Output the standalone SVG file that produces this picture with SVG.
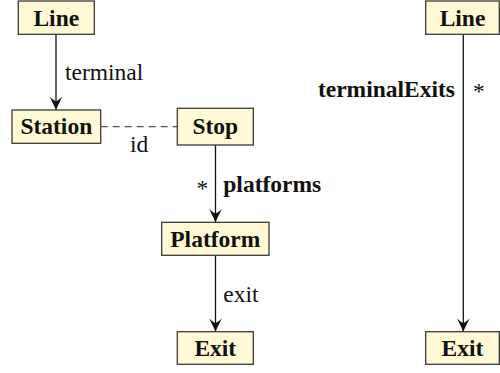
<svg xmlns="http://www.w3.org/2000/svg" width="500" height="373" viewBox="0 0 500 373">
<defs>
<style>
.box{fill:#fffad5;stroke:#3a3a3a;stroke-width:1.3}
text{font-family:'Liberation Serif','Times New Roman','DejaVu Serif',serif;font-size:23.5px;fill:#111}
.nt{font-weight:bold;text-anchor:middle}
.lbb{font-weight:bold}
.edge{stroke:#111;stroke-width:1.3;fill:none}
.dash{stroke:#555;stroke-width:1.3;fill:none;stroke-dasharray:7,5}
</style>
<marker id="arr" viewBox="-15 -7 16 14" refX="0" refY="0" markerWidth="16" markerHeight="14" markerUnits="userSpaceOnUse" orient="auto">
<path d="M0,0 C-4,-1.8 -9,-4 -13.5,-6.5 C-10.5,-3.5 -9.2,-1.5 -8.5,0 C-9.2,1.5 -10.5,3.5 -13.5,6.5 C-9,4 -4,1.8 0,0Z" fill="#111"/>
</marker>
</defs>
<g id="connectors">
<line class="edge" x1="56" y1="34.3" x2="56" y2="110" marker-end="url(#arr)"/>
<text x="65" y="80">terminal</text>
<line class="dash" x1="100.7" y1="126.7" x2="177.3" y2="126.7"/>
<text x="130" y="152">id</text>
<line class="edge" x1="215.5" y1="145" x2="215.5" y2="222.3" marker-end="url(#arr)"/>
<text x="196.5" y="196">*</text>
<text class="lbb" x="223.3" y="191.7">platforms</text>
<line class="edge" x1="215.5" y1="255.3" x2="215.5" y2="331.7" marker-end="url(#arr)"/>
<text x="223.3" y="301.7">exit</text>
<line class="edge" x1="463.3" y1="34.3" x2="463.3" y2="331.7" marker-end="url(#arr)"/>
<text class="lbb" x="455" y="96.7" text-anchor="end">terminalExits</text>
<text x="473" y="99">*</text>
</g>
<g id="line1">
<rect class="box" x="18.3" y="1" width="76" height="33.3"/>
<text class="nt" x="56.3" y="26">Line</text>
</g>
<g id="station">
<rect class="box" x="12" y="110" width="88.7" height="33.3"/>
<text class="nt" x="56.3" y="133.5">Station</text>
</g>
<g id="stop">
<rect class="box" x="177.3" y="108.3" width="76" height="36.7"/>
<text class="nt" x="215.3" y="133.5">Stop</text>
</g>
<g id="platform">
<rect class="box" x="161.7" y="222.3" width="107.3" height="33"/>
<text class="nt" x="215.3" y="246.7">Platform</text>
</g>
<g id="exit1">
<rect class="box" x="177.3" y="331.7" width="76" height="32.6"/>
<text class="nt" x="215.3" y="355.5">Exit</text>
</g>
<g id="line2">
<rect class="box" x="425.7" y="1" width="73.6" height="33.3"/>
<text class="nt" x="462.5" y="26">Line</text>
</g>
<g id="exit2">
<rect class="box" x="425.7" y="331.7" width="73.6" height="32.6"/>
<text class="nt" x="462.5" y="355.5">Exit</text>
</g>
</svg>
